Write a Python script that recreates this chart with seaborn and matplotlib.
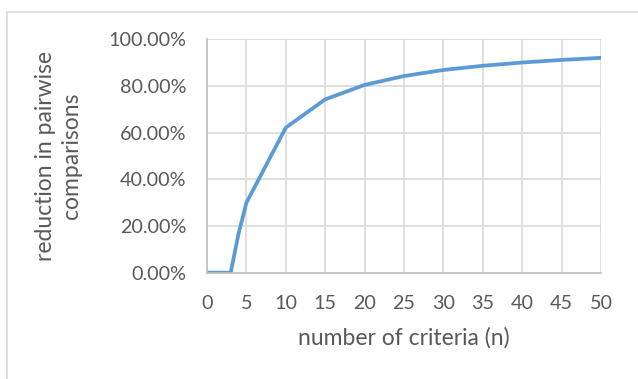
import matplotlib.pyplot as plt
import numpy as np
import pandas as pd
import seaborn as sns
from matplotlib.patches import Rectangle
from matplotlib.ticker import FuncFormatter

# values
criteria = [0, 1, 2, 3, 4, 5, 10, 15, 20, 25, 30, 35, 40, 45, 50]
reduction = [0.0, 0.0, 0.0, 0.0, 0.167, 0.30, 0.622, 0.743, 0.805, 0.843,
             0.869, 0.887, 0.901, 0.912, 0.921]
x_ticks = list(range(0, 55, 5))
y_ticks = [0.0, 0.2, 0.4, 0.6, 0.8, 1.0]

df = pd.DataFrame({"n": criteria, "reduction": reduction})

sns.set_theme(style = "whitegrid")
plt.rcParams["font.family"] = ["Lato", "DejaVu Sans"]
text_col = "#595959"
grid_col = "#D9D9D9"

fig = plt.figure(figsize = (6.38, 3.79), dpi = 100)
ax = fig.add_axes([0.3245, 0.2805, 0.6175, 0.6155])

sns.lineplot(data = df, x = "n", y = "reduction", ax = ax,
             color = "#5B9BD5", linewidth = 2.7)

ax.set_xlim(0, 50)
ax.set_ylim(0, 1)
ax.set_xticks(x_ticks)
ax.set_yticks(y_ticks)
ax.yaxis.set_major_formatter(FuncFormatter(lambda v, _: "{:.2f}%".format(v * 100)))
ax.tick_params(length = 0, labelsize = 14.2, labelcolor = text_col)
ax.tick_params(axis = "x", pad = 16)
ax.tick_params(axis = "y", pad = 15)
ax.grid(True, color = grid_col, linewidth = 1.2)
for side in ["top", "right"]:
    ax.spines[side].set_visible(False)
for side in ["left", "bottom"]:
    ax.spines[side].set_color("#BFBFBF")
    ax.spines[side].set_linewidth(1.2)
ax.set_axisbelow(True)

ax.set_xlabel("number of criteria (n)", fontsize = 16.5, color = text_col,
              labelpad = 11)
ax.set_ylabel("reduction in pairwise\ncomparisons", fontsize = 16.5,
              color = text_col, labelpad = 19, linespacing = 1.3)

# light frame around the chart like the office export
fig.patches.append(Rectangle((7 / 638, -0.1), 1.2, 1 - 12 / 379 + 0.1,
                             transform = fig.transFigure, fill = False,
                             edgecolor = grid_col, linewidth = 1.2))

fig.savefig("out.png", dpi = 100, facecolor = "white")
